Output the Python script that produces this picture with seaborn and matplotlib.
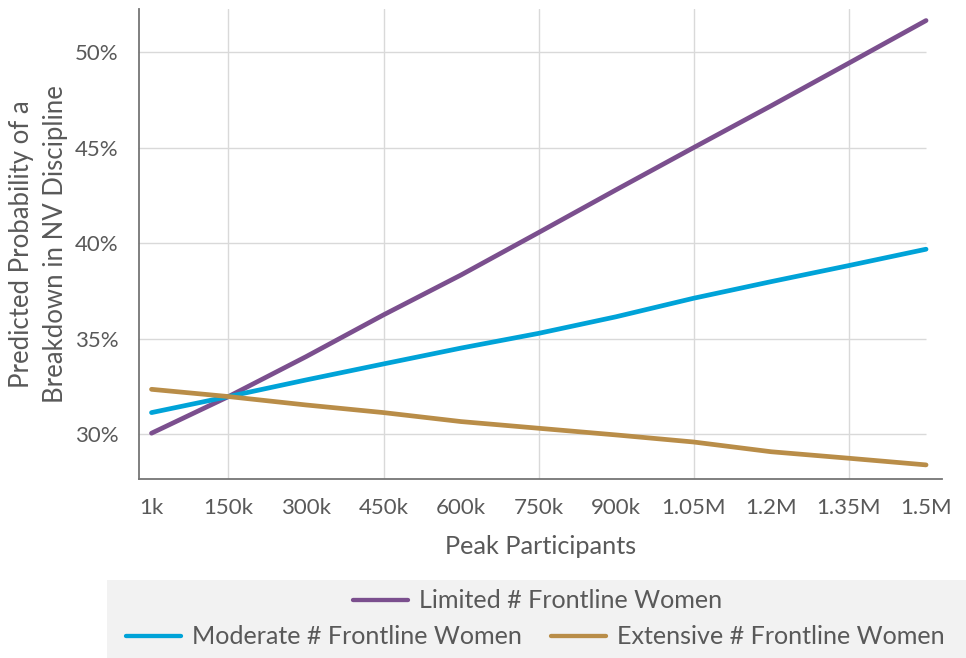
import matplotlib
matplotlib.use("Agg")
import matplotlib.pyplot as plt
import pandas as pd
import seaborn as sns
from matplotlib.lines import Line2D
from matplotlib.patches import Rectangle

# peak participants, in thousands
participants = [1, 150, 300, 450, 600, 750, 900, 1050, 1200, 1350, 1500]
tick_labels = ['1k', '150k', '300k', '450k', '600k', '750k', '900k',
               '1.05M', '1.2M', '1.35M', '1.5M']

limited = [30.04, 31.96, 34.05, 36.24, 38.33, 40.55, 42.79, 45.00, 47.19, 49.42, 51.66]
moderate = [31.12, 31.96, 32.83, 33.67, 34.50, 35.27, 36.14, 37.11, 37.98, 38.82, 39.68]
extensive = [32.34, 31.96, 31.52, 31.12, 30.65, 30.30, 29.95, 29.58, 29.07, 28.73, 28.38]

series = ['Limited # Frontline Women', 'Moderate # Frontline Women',
          'Extensive # Frontline Women']
colors = ['#7B4F8E', '#00A3D8', '#B98D48']

df = pd.concat([
    pd.DataFrame({'x': participants, 'y': vals, 'group': name})
    for name, vals in zip(series, [limited, moderate, extensive])
])

sns.set_style('white')
plt.rcParams['font.family'] = ['Lato', 'DejaVu Sans']
text_color = '#595959'

fig = plt.figure(figsize=(9.66, 6.58), dpi=100)
ax = fig.add_axes([0.1439, 0.2720, 0.9749 - 0.1439, 0.9859 - 0.2720])

sns.lineplot(data=df, x='x', y='y', hue='group', palette=dict(zip(series, colors)),
             linewidth=3.4, legend=False, ax=ax, zorder=3)
for line in ax.lines:
    line.set_solid_capstyle('round')

ax.set_xlim(-23.2, 1530.4)
ax.set_ylim(27.64, 52.25)

ax.set_xticks(participants)
ax.set_xticklabels(tick_labels)
ax.xaxis.remove_overlapping_locs = False
ax.set_xticks([150, 450, 750, 1050, 1350], minor=True)
yticks = [30, 35, 40, 45, 50]
ax.set_yticks(yticks)
ax.set_yticklabels([f'{t}%' for t in yticks])

ax.grid(False)
ax.grid(which='minor', axis='x', color='#D9D9D9', linewidth=1.0, zorder=0)
ax.hlines(yticks, -26, 1500, color='#D9D9D9', linewidth=1.0, zorder=0, clip_on=False)
ax.set_axisbelow(True)

ax.tick_params(axis='both', which='both', length=0, labelsize=16, colors=text_color)
ax.tick_params(axis='x', pad=14)
ax.tick_params(axis='y', pad=15)

for side in ['top', 'right']:
    ax.spines[side].set_visible(False)
for side in ['left', 'bottom']:
    ax.spines[side].set_color('#757575')
    ax.spines[side].set_linewidth(1.3)

ax.set_xlabel('Peak Participants', fontsize=18.2, color=text_color, labelpad=12)
ax.set_ylabel('Predicted Probability of a\nBreakdown in NV Discipline', fontsize=18.5,
              color=text_color, labelpad=5, linespacing=1.42)

# legend panel
fig.patches.append(Rectangle((107 / 966, 0), 1 - 107 / 966, 78 / 658,
                             transform=fig.transFigure, facecolor='#F2F2F2',
                             edgecolor='none', zorder=0))
handles = [Line2D([], [], color=c, linewidth=3.1) for c in colors]
leg_kw = dict(frameon=False, fontsize=18.1, handlelength=2.18, handletextpad=0.44,
              labelcolor=text_color, borderpad=0, borderaxespad=0)
fig.legend(handles[:1], series[:1], loc='center',
           bbox_to_anchor=(537.5 / 966, 1 - 601 / 658), **leg_kw)
fig.legend(handles[1:], series[1:], loc='center', ncol=2, columnspacing=1.15,
           bbox_to_anchor=(535.5 / 966, 1 - 637 / 658), **leg_kw)

plt.savefig('out.png', dpi=100)
